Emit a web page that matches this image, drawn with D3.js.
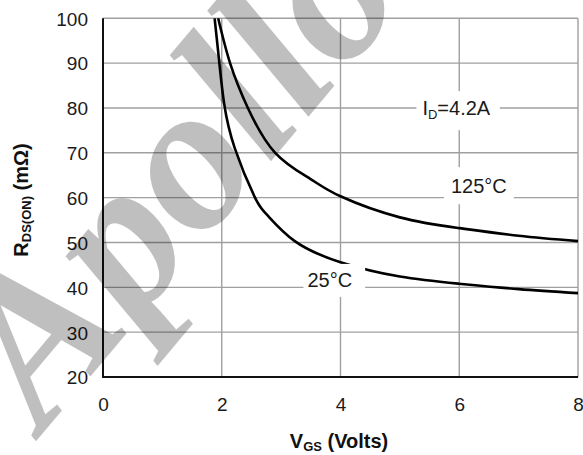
<!DOCTYPE html>
<html>
<head>
<meta charset="utf-8">
<script src="https://cdn.jsdelivr.net/npm/d3@7"></script>
<style>
  html, body { margin: 0; padding: 0; background: #fff; }
  svg { display: block; font-family: "Liberation Sans", Arial, sans-serif; }
</style>
</head>
<body>
<div id="chart"></div>
<script>
const width = 583;
const height = 455;

// data
const vgsTicks = [0, 2, 4, 6, 8];
const rdsTicks = [20, 30, 40, 50, 60, 70, 80, 90, 100];

const vgs25 = [1.88, 1.96, 2.04, 2.22, 2.56, 2.76, 3.23, 4.0, 5.0, 6.0, 7.0, 8.0];
const rds25 = [100, 90, 81, 71, 60, 56.2, 50.3, 45.6, 42.4, 40.8, 39.6, 38.7];

const vgs125 = [1.94, 2.14, 2.44, 2.9, 3.49, 4.0, 5.0, 6.0, 7.0, 8.0];
const rds125 = [100, 90, 80, 70, 64.2, 60.3, 55.6, 53.2, 51.5, 50.3];

const x = d3.scaleLinear().domain([0, 8]).range([103, 578]);
const y = d3.scaleLinear().domain([20, 100]).range([377, 18.3]);

const svg = d3.select("#chart").append("svg")
  .attr("width", width)
  .attr("height", height);

// grid
svg.append("g")
  .selectAll("line")
  .data(rdsTicks)
  .join("line")
  .attr("x1", x(0)).attr("x2", x(8))
  .attr("y1", d => y(d)).attr("y2", d => y(d))
  .attr("stroke", "#a0a0a0")
  .attr("stroke-width", 1.4);

svg.append("g")
  .selectAll("line")
  .data(vgsTicks)
  .join("line")
  .attr("x1", d => x(d)).attr("x2", d => x(d))
  .attr("y1", y(20)).attr("y2", y(100))
  .attr("stroke", "#a0a0a0")
  .attr("stroke-width", 1.4);

// black left and bottom frame
svg.append("path")
  .attr("d", `M${x(0)},${y(100)}V${y(20)}H${x(8)}`)
  .attr("fill", "none")
  .attr("stroke", "#111")
  .attr("stroke-width", 2);

// curves
const line = d3.line()
  .x(d => x(d[0]))
  .y(d => y(d[1]))
  .curve(d3.curveNatural);

svg.append("path")
  .datum(d3.zip(vgs25, rds25))
  .attr("d", line)
  .attr("fill", "none")
  .attr("stroke", "#000")
  .attr("stroke-width", 2.6);

svg.append("path")
  .datum(d3.zip(vgs125, rds125))
  .attr("d", line)
  .attr("fill", "none")
  .attr("stroke", "#000")
  .attr("stroke-width", 2.6);

// axes
const xAxis = svg.append("g")
  .attr("transform", `translate(0, ${y(20) + 20})`)
  .call(d3.axisBottom(x).tickValues(vgsTicks).tickSize(0).tickFormat(d3.format("d")));

const yAxis = svg.append("g")
  .attr("transform", `translate(${x(0) - 15}, 0)`)
  .call(d3.axisLeft(y).tickValues(rdsTicks).tickSize(0).tickFormat(d3.format("d")));

svg.selectAll(".domain").remove();
svg.selectAll(".tick text")
  .attr("font-family", "Liberation Sans, Arial, sans-serif")
  .attr("font-size", 19)
  .attr("fill", "#1a1a1a");
yAxis.selectAll(".tick text").attr("x", 0).attr("dy", "0.36em");
xAxis.selectAll(".tick text").attr("y", 0).attr("dy", "0.71em");

// axis titles
const xTitle = svg.append("text")
  .attr("x", 339)
  .attr("y", 448)
  .attr("text-anchor", "middle")
  .attr("font-size", 20)
  .attr("font-weight", "bold")
  .attr("fill", "#111");
xTitle.append("tspan").text("V");
xTitle.append("tspan").attr("font-size", 13).attr("dy", 3).text("GS");
xTitle.append("tspan").attr("dy", -3).text(" (Volts)");

const yTitle = svg.append("text")
  .attr("transform", "translate(28, 200) rotate(-90)")
  .attr("text-anchor", "middle")
  .attr("font-size", 20)
  .attr("font-weight", "bold")
  .attr("fill", "#111");
yTitle.append("tspan").text("R");
yTitle.append("tspan").attr("font-size", 13).attr("dy", 3).text("DS(ON)");
yTitle.append("tspan").attr("dy", -3).text(" (mΩ)");

// annotations with white boxes
function note(cx, cy, parts, pad) {
  const g = svg.append("g");
  const box = g.append("rect").attr("fill", "#fff");
  const t = g.append("text")
    .attr("x", x(cx))
    .attr("y", y(cy))
    .attr("dy", "0.36em")
    .attr("text-anchor", "middle")
    .attr("font-size", 20)
    .attr("fill", "#1a1a1a");
  parts.forEach(p => {
    const s = t.append("tspan").text(p.text);
    if (p.sub) s.attr("font-size", 13).attr("dy", 4);
    if (p.back) s.attr("dy", -4);
  });
  const b = t.node().getBBox();
  box.attr("x", b.x - pad[0])
    .attr("y", b.y - pad[2])
    .attr("width", b.width + pad[0] + pad[1])
    .attr("height", b.height + pad[2] + pad[3]);
}

note(5.95, 80, [{text: "I"}, {text: "D", sub: true}, {text: "=4.2A", back: true}], [6, 9, 6, 8]);
note(6.33, 62.6, [{text: "125°C"}], [7, 7, 8, 7]);
note(3.82, 41.7, [{text: "25°C"}], [4, 13, 5, 6]);

// watermark
svg.append("text")
  .attr("transform", "translate(43, 433) rotate(-50)")
  .attr("font-family", "Liberation Serif, Times New Roman, serif")
  .attr("font-style", "italic")
  .attr("font-weight", "bold")
  .attr("font-size", 210)
  .attr("fill", "#000")
  .attr("fill-opacity", 0.25)
  .text("Apollo");
</script>
</body>
</html>
